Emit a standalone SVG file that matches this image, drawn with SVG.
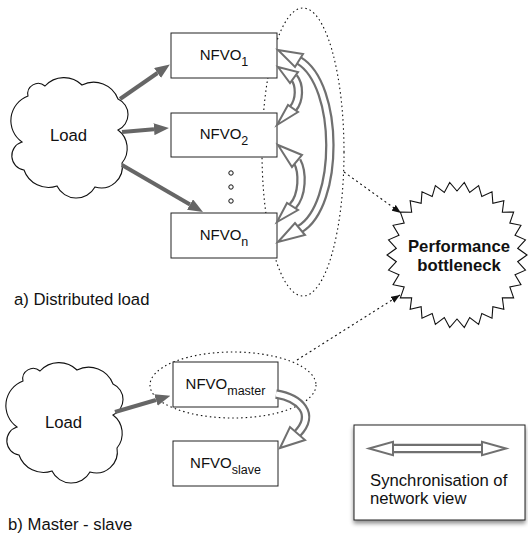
<svg xmlns="http://www.w3.org/2000/svg" width="528" height="536" viewBox="0 0 528 536">
<defs>
<style>
text{font-family:"Liberation Sans",Arial,Helvetica,sans-serif;fill:#111}
.lbl{font-size:16.7px}
.nf{font-size:15px;text-anchor:middle}
.sub{font-size:12.5px}
.box{fill:#fff;stroke:#222;stroke-width:1}
.cloud{fill:#fff;stroke:#111;stroke-width:1.1}
.grp{fill:none;stroke:#111;stroke-width:1.1;stroke-dasharray:1.5 3}
.thick{fill:none;stroke:#666;stroke-width:4}
.dot{fill:none;stroke:#111;stroke-width:1.1;stroke-dasharray:2 3}
.so{fill:none;stroke:#707070;stroke-width:9.5}
.si{fill:none;stroke:#fff;stroke-width:5}
.sh{fill:#fff;stroke:#707070;stroke-width:2;stroke-linejoin:miter}
</style>
<marker id="ah" markerUnits="userSpaceOnUse" viewBox="0 0 15 12" refX="0" refY="6" markerWidth="15" markerHeight="12" orient="auto">
<path d="M0,0 L15,6 L0,12 z" fill="#666"/>
</marker>
<marker id="dh" markerUnits="userSpaceOnUse" viewBox="0 0 9 7" refX="9" refY="3.5" markerWidth="9" markerHeight="7" orient="auto">
<path d="M0,0 L9,3.5 L0,7 z" fill="#111"/>
</marker>
<path id="cloudp" d="M45,86 A25.6,25.6 0 0 1 82,85 A26,26 0 0 1 118,99 A17,17 0 0 1 118,130 A23,23 0 0 1 122,163 A21.2,21.2 0 0 1 95,187 A21.4,21.4 0 0 1 57,186 A26,26 0 0 1 24,170 A14.4,14.4 0 0 1 22,142 A26.2,26.2 0 0 1 28,96 A10.4,10.4 0 0 1 45,86 Z"/>
<filter id="shadow" x="-10%" y="-10%" width="130%" height="140%">
<feDropShadow dx="0" dy="3" stdDeviation="2" flood-color="#000" flood-opacity="0.45"/>
</filter>
</defs>
<rect width="528" height="536" fill="#fff"/>

<g id="groups">
<ellipse class="grp" cx="303" cy="152" rx="41" ry="144"/>
<ellipse class="grp" cx="233" cy="385" rx="83" ry="33"/>
</g>

<g id="load-a">
<use href="#cloudp" class="cloud"/>
<text class="lbl" x="68.5" y="141" text-anchor="middle">Load</text>
</g>
<g id="nfvo-1">
<rect class="box" x="171" y="33" width="106" height="45"/>
<text class="nf" x="224" y="60">NFVO<tspan class="sub" dy="6">1</tspan></text>
</g>
<g id="nfvo-2">
<rect class="box" x="171" y="113" width="106" height="44"/>
<text class="nf" x="224" y="139">NFVO<tspan class="sub" dy="6">2</tspan></text>
</g>
<g id="ellipsis">
<circle cx="231" cy="173" r="2.2" fill="#fff" stroke="#111" stroke-width="1"/>
<circle cx="231" cy="187" r="2.2" fill="#fff" stroke="#111" stroke-width="1"/>
<circle cx="231" cy="201" r="2.2" fill="#fff" stroke="#111" stroke-width="1"/>
</g>
<g id="nfvo-n">
<rect class="box" x="171" y="213" width="106" height="45"/>
<text class="nf" x="224" y="240">NFVO<tspan class="sub" dy="6">n</tspan></text>
</g>
<g id="bottleneck">
<polygon fill="#fff" stroke="#111" stroke-width="1.1" points="527,255 517.66,248.31 525.47,239.82 515.02,235.22 520.95,225.31 509.83,223 513.63,212.09 502.33,212.18 503.84,200.75 492.86,203.22 492,191.78 481.81,196.54 478.63,185.57 469.68,192.4 464.32,182.4 457,191 449.68,182.4 444.32,192.4 435.37,185.57 432.19,196.54 422,191.78 421.14,203.22 410.16,200.75 411.67,212.18 400.37,212.09 404.17,223 393.05,225.31 398.98,235.22 388.53,239.82 396.34,248.31 387,255 396.34,261.69 388.53,270.18 398.98,274.78 393.05,284.69 404.17,287 400.37,297.91 411.67,297.82 410.16,309.25 421.14,306.78 422,318.22 432.19,313.46 435.37,324.43 444.32,317.6 449.68,327.6 457,319 464.32,327.6 469.68,317.6 478.63,324.43 481.81,313.46 492,318.22 492.86,306.78 503.84,309.25 502.33,297.82 513.63,297.91 509.83,287 520.95,284.69 515.02,274.78 525.47,270.18 517.66,261.69"/>
<text class="lbl" x="459" y="252" text-anchor="middle" font-weight="bold">Performance</text>
<text class="lbl" x="459" y="271" text-anchor="middle" font-weight="bold">bottleneck</text>
</g>
<text class="lbl" x="14" y="305">a) Distributed load</text>

<g id="load-b">
<use href="#cloudp" class="cloud" transform="translate(-5,285)"/>
<text class="lbl" x="63.5" y="428" text-anchor="middle">Load</text>
</g>
<g id="nfvo-master">
<rect class="box" x="173" y="362" width="105" height="45"/>
<text class="nf" x="225.5" y="389">NFVO<tspan class="sub" dy="6">master</tspan></text>
</g>
<g id="nfvo-slave">
<rect class="box" x="173" y="441" width="105" height="45"/>
<text class="nf" x="225.5" y="468">NFVO<tspan class="sub" dy="6">slave</tspan></text>
</g>
<text class="lbl" x="8" y="530">b) Master - slave</text>

<g id="legend">
<rect x="354" y="425" width="171" height="95" fill="#fff" stroke="#222" stroke-width="1" filter="url(#shadow)"/>
<path class="so" d="M392,448.5 H483"/>
<path class="si" d="M390,448.5 H485"/>
<polygon class="sh" points="369,448.5 393,441.8 393,455.2"/>
<polygon class="sh" points="506,448.5 482,441.8 482,455.2"/>
<text class="lbl" x="370" y="486">Synchronisation of</text>
<text class="lbl" x="370" y="504">network view</text>
</g>

<g id="connectors">
<line class="thick" x1="120" y1="99" x2="157.5" y2="73" marker-end="url(#ah)"/>
<line class="thick" x1="122" y1="132" x2="154" y2="129.2" marker-end="url(#ah)"/>
<line class="thick" x1="122" y1="165" x2="190" y2="204.5" marker-end="url(#ah)"/>
<line class="thick" x1="115" y1="412" x2="156" y2="400" marker-end="url(#ah)"/>

<path class="so" d="M299,60.5 C340,85 340,205 300,229"/>
<path class="si" d="M299,60.5 C340,85 340,205 300,229"/>
<polygon class="sh" points="278,50 303,54 295,67"/>
<polygon class="sh" points="278,242 295,223 305,235"/>

<path class="so" d="M294,77.5 C300,85 300,100 293,108.5"/>
<path class="si" d="M294,77.5 C300,85 300,100 293,108.5"/>
<polygon class="sh" points="278,67 298,72 290,83"/>
<polygon class="sh" points="277,125 288,105 298,112"/>

<path class="so" d="M297,161 C303,172 303,195 292.5,206.5"/>
<path class="si" d="M297,161 C303,172 303,195 292.5,206.5"/>
<polygon class="sh" points="278,145 302,155 292,167"/>
<polygon class="sh" points="277,222 287,203 298,210"/>

<path class="so" d="M276,394 C300,398 316,414 297.5,433.5"/>
<path class="si" d="M276,394 C300,398 316,414 297.5,433.5"/>
<polygon class="sh" points="280,448 290,427 305,440"/>

<line class="dot" x1="344" y1="172" x2="401" y2="213" marker-end="url(#dh)"/>
<line class="dot" x1="297" y1="360" x2="400" y2="295" marker-end="url(#dh)"/>
</g>
</svg>
